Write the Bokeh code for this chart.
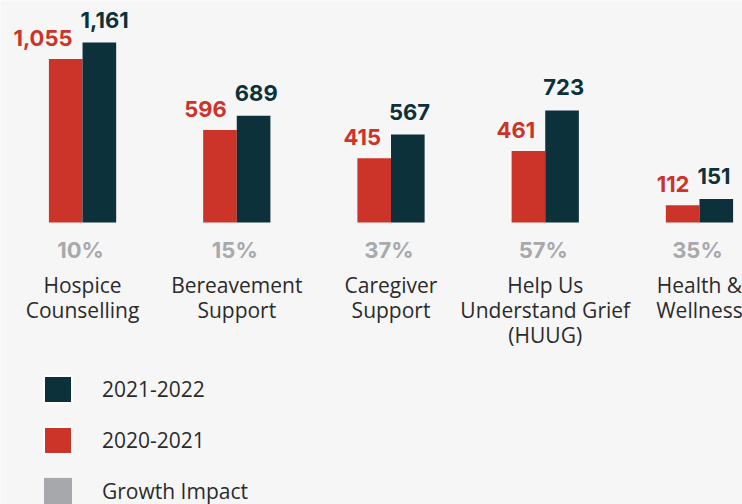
import numpy as np
from bokeh.plotting import figure
from bokeh.models import ColumnDataSource, Range1d, Legend, LegendItem
from bokeh.core.properties import value
from bokeh.transform import dodge
from bokeh.embed import file_html
from bokeh.resources import INLINE

categories = ["Hospice\nCounselling", "Bereavement\nSupport", "Caregiver\nSupport",
              "Help Us\nUnderstand Grief\n(HUUG)", "Health &\nWellness"]
values_2020_2021 = [1055, 596, 415, 461, 112]
values_2021_2022 = [1161, 689, 567, 723, 151]
growth_impact = ["10%", "15%", "37%", "57%", "35%"]

RED = "#CC3429"
TEAL = "#0C313B"
GRAY = "#A8A9AC"
TXT = "#2B2B2B"
BG = "#F6F6F6"

x = np.arange(len(categories))
bw = 0.218

lines = [c.split("\n") + [""] * (3 - len(c.split("\n"))) for c in categories]

src = ColumnDataSource(dict(
    x=x,
    red=values_2020_2021,
    teal=values_2021_2022,
    red_lbl=[f"{v:,}" for v in values_2020_2021],
    teal_lbl=[f"{v:,}" for v in values_2021_2022],
    pct=growth_impact,
    l1=[l[0] for l in lines],
    l2=[l[1] for l in lines],
    l3=[l[2] for l in lines],
    zero=[0] * len(categories),
))

p = figure(width=742, height=504, output_backend="svg", toolbar_location=None,
           x_range=Range1d(-0.532, 4.279), y_range=Range1d(-1819, 1432),
           min_border=0, outline_line_color=None,
           background_fill_color=BG, border_fill_color=BG)
p.axis.visible = False
p.grid.visible = False

p.vbar(x=dodge("x", -bw / 2, range=p.x_range), top="red", width=bw, source=src,
       fill_color=RED, line_color=None)
p.vbar(x=dodge("x", bw / 2, range=p.x_range), top="teal", width=bw, source=src,
       fill_color=TEAL, line_color=None)

num_font = value("Inter")
p.text(x="x", y="red", text="red_lbl", source=src, x_offset=-10, y_offset=-21,
       text_align="right", text_baseline="alphabetic", text_color=RED,
       text_font=num_font, text_font_style="bold", text_font_size="22px")
p.text(x="x", y="teal", text="teal_lbl", source=src, x_offset=-2, y_offset=-23,
       text_align="left", text_baseline="alphabetic", text_color=TEAL,
       text_font=num_font, text_font_style="bold", text_font_size="22px")

p.text(x="x", y="zero", text="pct", source=src, x_offset=-2, y_offset=27,
       text_align="center", text_baseline="alphabetic", text_color=GRAY,
       text_font=num_font, text_font_style="bold", text_font_size="22px")

for i, col in enumerate(["l1", "l2", "l3"]):
    p.text(x="x", y="zero", text=col, source=src, y_offset=62 + 25 * i,
           text_align="center", text_baseline="alphabetic", text_color=TXT,
           text_font=value("Open Sans"), text_font_size="21px")

# legend-only renderers (hidden), sharing the bar data
r_teal = p.vbar(x="x", top="teal", width=bw, source=src, fill_color=TEAL,
                line_color="white", line_width=2, visible=False)
r_red = p.vbar(x="x", top="red", width=bw, source=src, fill_color=RED,
               line_color="white", line_width=2, visible=False)
r_gray = p.vbar(x="x", top="red", width=bw, source=src, fill_color="#A7A8AB",
                line_color=None, visible=False)

legend = Legend(items=[LegendItem(label="2021-2022", renderers=[r_teal]),
                       LegendItem(label="2020-2021", renderers=[r_red]),
                       LegendItem(label="Growth Impact", renderers=[r_gray])],
                location=(40, -4), padding=0, margin=0, spacing=17,
                glyph_width=35, glyph_height=34, label_height=34, label_standoff=27,
                label_text_font="Open Sans", label_text_font_size="21px",
                label_text_color=TXT, border_line_color=None,
                background_fill_alpha=0, inactive_fill_alpha=0)
p.add_layout(legend)

open("out.html", "w").write(file_html(p, INLINE))
